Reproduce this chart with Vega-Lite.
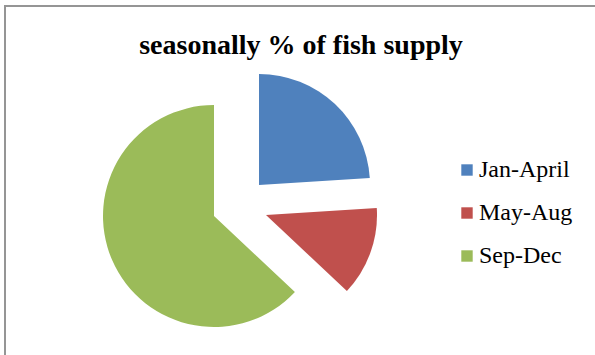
{
  "$schema": "https://vega.github.io/schema/vega-lite/v6.json",
  "autosize": "none",
  "width": 592,
  "height": 352,
  "padding": {"left": 5, "top": 6, "right": 0, "bottom": 0},
  "background": "white",
  "config": {"view": {"stroke": "#959595", "strokeWidth": 2}},
  "title": {
    "text": "seasonally % of fish supply",
    "font": "Liberation Serif",
    "fontSize": 28,
    "fontWeight": "bold",
    "color": "black",
    "anchor": "middle",
    "frame": "group",
    "baseline": "alphabetic",
    "offset": -76
  },
  "data": {
    "values": [
      {"season": "Jan-April", "pct": 24},
      {"season": "May-Aug", "pct": 13},
      {"season": "Sep-Dec", "pct": 63}
    ]
  },
  "transform": [
    {"stack": "pct", "groupby": [], "sort": [{"field": "season", "order": "ascending"}], "as": ["start", "end"]}
  ],
  "encoding": {
    "theta": {"field": "start", "type": "quantitative", "scale": {"domain": [0, 100]}},
    "theta2": {"field": "end"},
    "x": {"value": 235},
    "y": {"value": 199},
    "color": {
      "field": "season",
      "type": "nominal",
      "scale": {"domain": ["Jan-April", "May-Aug", "Sep-Dec"], "range": ["#4F81BD", "#C0504D", "#9BBB59"]},
      "legend": {
        "title": null,
        "orient": "none",
        "legendX": 450,
        "legendY": 152,
        "padding": 0,
        "symbolType": "square",
        "symbolSize": 130,
        "symbolStrokeWidth": 0,
        "symbolOpacity": 1,
        "labelFont": "Liberation Serif",
        "labelFontSize": 24,
        "labelColor": "black",
        "labelOffset": 0,
        "rowPadding": 19
      }
    }
  },
  "layer": [
    {
      "transform": [{"filter": "datum.season === 'Jan-April'"}],
      "mark": {"type": "arc", "outerRadius": 111, "xOffset": 19, "yOffset": -20}
    },
    {
      "transform": [{"filter": "datum.season === 'May-Aug'"}],
      "mark": {"type": "arc", "outerRadius": 111, "xOffset": 26, "yOffset": 10}
    },
    {
      "transform": [{"filter": "datum.season === 'Sep-Dec'"}],
      "mark": {"type": "arc", "outerRadius": 111, "xOffset": -26, "yOffset": 11}
    }
  ]
}
